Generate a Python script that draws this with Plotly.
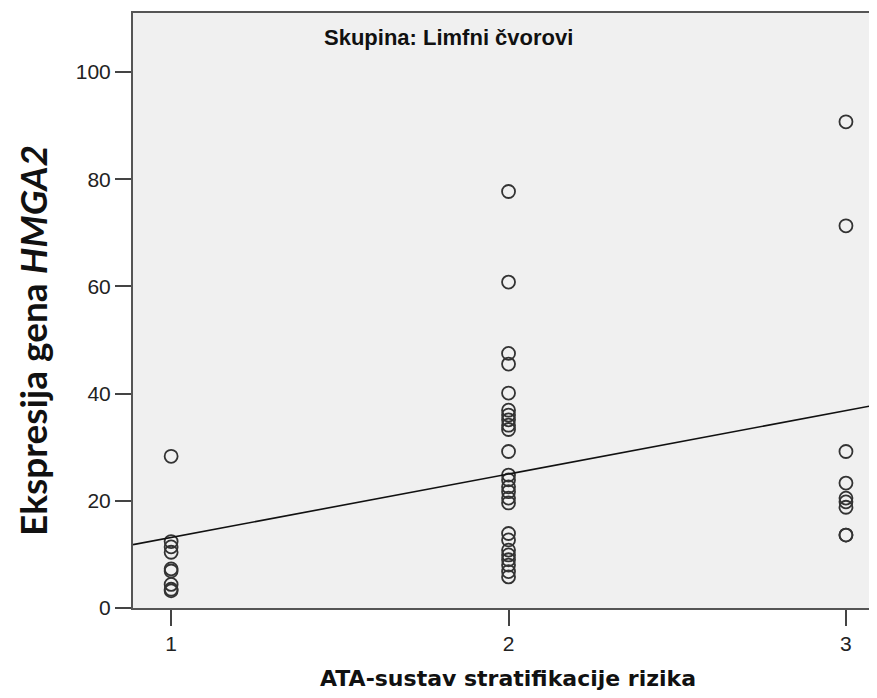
import numpy as np
import plotly.graph_objects as go

# ATA risk group (x) and HMGA2 expression (y)
rizik_1 = [28.3, 12.4, 11.4, 10.4, 7.3, 6.9, 4.4, 3.5, 3.2]
rizik_2 = [77.7, 60.8, 47.5, 45.5, 40.1, 36.9, 36.0, 35.1, 34.1, 33.3,
           29.2, 24.8, 23.9, 22.6, 21.7, 20.5, 19.6, 13.9, 12.7, 10.8,
           9.9, 9.0, 8.0, 6.8, 5.8]
rizik_3 = [90.7, 71.3, 29.2, 23.3, 20.5, 19.8, 18.8, 13.6, 13.6]

x_ticks = [1, 2, 3]
y_ticks = [0, 20, 40, 60, 80, 100]
x_range = [0.887, 3.092]
y_range = [0, 111]

x = [1] * len(rizik_1) + [2] * len(rizik_2) + [3] * len(rizik_3)
y = rizik_1 + rizik_2 + rizik_3

# linear fit over all points (as SPSS "fit line at total")
slope, intercept = np.polyfit(x, y, 1)
fit_x = np.array(x_range)
fit_y = intercept + slope * fit_x

fig = go.Figure()

fig.add_trace(go.Scatter(
    x=x, y=y, mode="markers",
    marker=dict(symbol="circle-open", size=13, color="#333333",
                line=dict(width=1.8, color="#333333")),
    showlegend=False,
))

fig.add_trace(go.Scatter(
    x=fit_x, y=fit_y, mode="lines",
    line=dict(color="#111111", width=1.6),
    showlegend=False,
))

tick_font = dict(family="Liberation Sans, Arial, sans-serif", size=21, color="#222222")

fig.update_xaxes(
    range=x_range, tickvals=x_ticks, showgrid=False, zeroline=False,
    showline=True, linecolor="#555555", linewidth=2, mirror=True,
    ticks="outside", ticklen=16, tickwidth=2, tickcolor="#444444",
    tickfont=tick_font,
)
fig.update_yaxes(
    range=y_range, tickvals=y_ticks, showgrid=False, zeroline=False,
    showline=True, linecolor="#555555", linewidth=2,
    ticks="outside", ticklen=16, tickwidth=2, tickcolor="#444444",
    tickfont=tick_font,
)

fig.add_annotation(
    text="<b>Skupina: Limfni čvorovi</b>", xref="paper", yref="paper",
    x=0.254, y=0.958, xanchor="left", yanchor="middle", showarrow=False,
    font=dict(family="Liberation Sans, Arial, sans-serif", size=22, color="#111111"),
)
fig.add_annotation(
    text="<b>ATA-sustav stratifikacije rizika</b>", xref="paper", yref="paper",
    x=0.504, y=-0.118, xanchor="center", yanchor="middle", showarrow=False,
    font=dict(family="DejaVu Sans, Verdana, sans-serif", size=22, color="#111111"),
)
fig.add_annotation(
    text="<b>Ekspresija gena <i>HMGA2</i></b>", xref="paper", yref="paper",
    x=-0.136, y=0.45, xanchor="center", yanchor="middle", textangle=-90,
    showarrow=False,
    font=dict(family="Lato, Open Sans, sans-serif", size=37, color="#111111"),
)

# page body has an 8px margin, so the figure is sized/shifted to match
fig.update_layout(
    width=869, height=690,
    margin=dict(l=125, r=0, t=5, b=90),
    paper_bgcolor="white", plot_bgcolor="#f0f0f0",
)

fig.write_html("out.html")
